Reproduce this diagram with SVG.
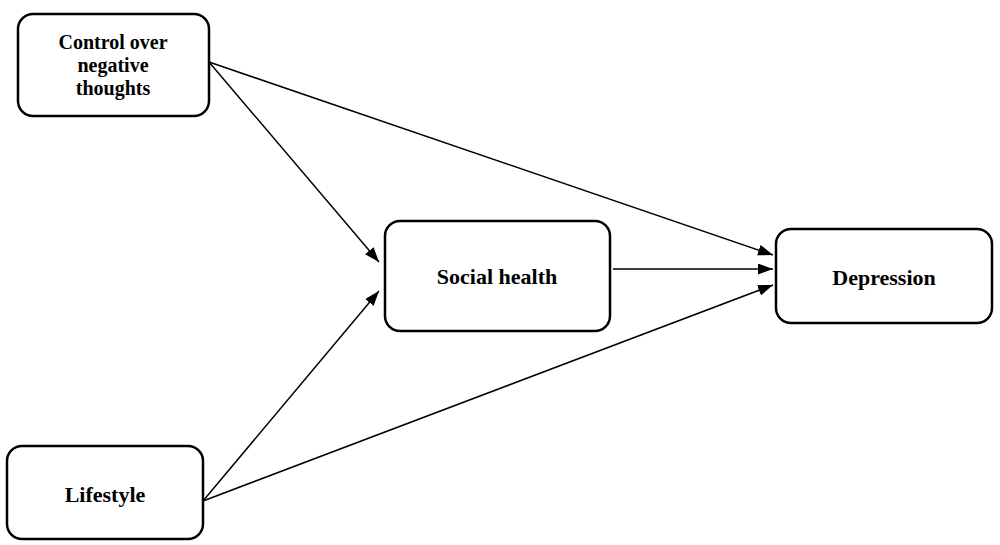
<svg xmlns="http://www.w3.org/2000/svg" width="1000" height="545" viewBox="0 0 1000 545">
<style>
.box{fill:#fff;stroke:#000;stroke-width:2.5}
.lbl{font-family:"Liberation Serif","Times New Roman",serif;font-weight:bold;font-size:22px;fill:#000;text-anchor:middle}
.sm{font-size:20px}
.edge{stroke:#000;stroke-width:1.5;fill:none;marker-end:url(#ah)}
</style>
<defs>
<marker id="ah" markerUnits="userSpaceOnUse" markerWidth="16" markerHeight="11" refX="15" refY="5.5" orient="auto">
<path d="M0,0 L15,5.5 L0,11 z" fill="#000"/>
</marker>
</defs>
<rect width="1000" height="545" fill="#fff"/>
<g id="connectors">
<line class="edge" x1="209" y1="62" x2="773" y2="255"/>
<line class="edge" x1="209" y1="62" x2="379" y2="262"/>
<line class="edge" x1="203" y1="501" x2="379" y2="291"/>
<line class="edge" x1="203" y1="501" x2="773" y2="285"/>
<line class="edge" x1="613" y1="269" x2="773" y2="269"/>
</g>
<g id="control">
<rect class="box" x="18" y="14" width="191" height="102" rx="15"/>
<text class="lbl sm" x="113" y="49">Control over</text>
<text class="lbl sm" x="113" y="72">negative</text>
<text class="lbl sm" x="113" y="95">thoughts</text>
</g>
<g id="social">
<rect class="box" x="385" y="221" width="225" height="110" rx="15"/>
<text class="lbl" x="497" y="284">Social health</text>
</g>
<g id="depression">
<rect class="box" x="776" y="229" width="216" height="94" rx="15"/>
<text class="lbl" x="884" y="285">Depression</text>
</g>
<g id="lifestyle">
<rect class="box" x="7" y="446" width="196" height="93" rx="15"/>
<text class="lbl" x="105" y="502">Lifestyle</text>
</g>
</svg>
